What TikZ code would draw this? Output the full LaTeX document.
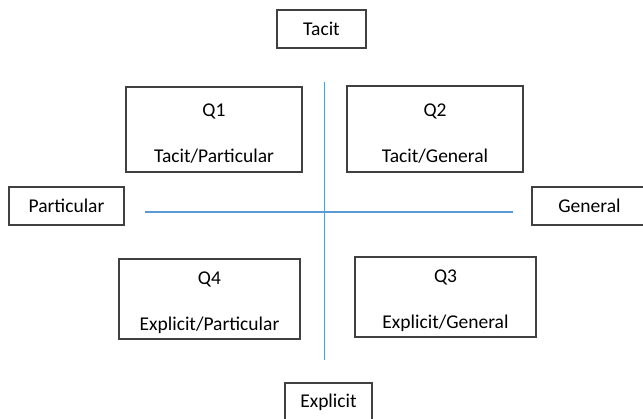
\documentclass[tikz,border=0pt]{standalone}
\usepackage{fontspec}
\setmainfont{Carlito}
\usetikzlibrary{positioning}

\definecolor{boxgray}{HTML}{404040}
\definecolor{axisblue}{HTML}{5B9BD5}

% extra room above the first line of a quadrant
\newcommand{\qstrut}{\rule{0pt}{21pt}}

\begin{document}
\begin{tikzpicture}[
        x=1pt, y=-1pt,
        box/.style={draw=boxgray, line width=1.1pt, inner sep=0pt, align=center},
        quadrant/.style={box},
        pole/.style={box, minimum height=38pt},
        axis line/.style={draw=axisblue, line width=1.3pt},
        every node/.style={font=\fontsize{19.5}{23}\selectfont}
        ]
        \useasboundingbox (0,0) rectangle (643,418);

        % axes
        \coordinate (top)    at (324.5,82);
        \coordinate (bottom) at (324.5,360);
        \coordinate (left)   at (145,212);
        \coordinate (right)  at (513,212);
        \draw[axis line] (top) -- (bottom);
        \draw[axis line] (left) -- (right);

        % poles
        \node[pole, minimum width=89pt] (tacit) at (321.5,29) {Tacit};
        \node[pole, minimum width=115pt] (particular) at (66.5,206) {Particular};
        \node[pole, minimum width=115pt] (general) at (589.5,206) {General};
        \node[pole, minimum width=87pt] (explicit) at (328.5,402) {Explicit};

        % quadrants
        \node[quadrant, minimum width=176pt, minimum height=85pt] (q1) at (214,129.5)
            {\qstrut Q1\\[23pt]Tacit/Particular};
        \node[quadrant, minimum width=176pt, minimum height=86pt] (q2) at (435,129)
            {\qstrut Q2\\[23pt]Tacit/General};
        \node[quadrant, minimum width=181pt, minimum height=80pt] (q4) at (209.5,299)
            {\qstrut Q4\\[23pt]Explicit/Particular};
        \node[quadrant, minimum width=181pt, minimum height=80pt] (q3) at (445.5,297)
            {\qstrut Q3\\[23pt]Explicit/General};
\end{tikzpicture}
\end{document}
